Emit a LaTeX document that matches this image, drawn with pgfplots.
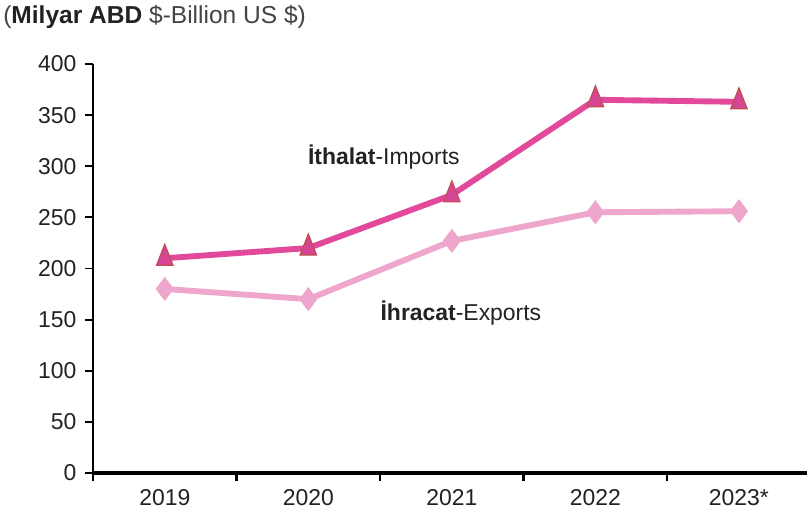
\documentclass[border=0pt]{standalone}
\usepackage{pgfplots}
\pgfplotsset{compat=1.18}
\usepackage{fontspec}
\setmainfont{Liberation Sans}
\definecolor{impcol}{RGB}{226,73,154}
\definecolor{impfill}{RGB}{214,68,150}
\definecolor{impedge}{RGB}{192,80,77}
\definecolor{expcol}{RGB}{238,166,204}
\definecolor{txt}{RGB}{34,34,34}
\begin{document}
\begin{tikzpicture}
\begin{axis}[
  at={(69.75pt,35.25pt)}, anchor=south west,
  scale only axis, width=535.5pt, height=306.75pt,
  xmin=-0.5, xmax=4.474, ymin=0, ymax=400,
  axis lines*=left,
  x axis line style={line width=2.4pt, black},
  y axis line style={line width=2pt, black},
  xtick={0,1,2,3,4},
  xticklabels={2019,2020,2021,2022,2023*},
  minor xtick={-0.5,0.5,1.5,2.5,3.5},
  major x tick style={draw=none},
  minor x tick style={line width=1.8pt, black},
  minor tick length=6pt,
  ytick={0,50,...,400},
  y tick style={line width=1.4pt, black},
  major tick length=6pt,
  tick align=outside,
  xtick pos=bottom, ytick pos=left,
  tick label style={font=\fontsize{17.2}{20}\selectfont, text=txt},
  /pgf/number format/assume math mode=true,
  xticklabel style={yshift=-3pt},
  yticklabel style={xshift=-3pt},
  clip=false,
]
\addplot[color=expcol, line width=4.4pt, mark=diamond*, mark size=8.8pt,
  mark options={fill=expcol, draw=expcol, line width=0.3pt}]
  coordinates {(0,180) (1,170) (2,227) (3,255) (4,256)};
\addplot[color=impcol, line width=4.4pt, mark=triangle*, mark size=10.5pt,
  mark options={fill=impfill, draw=impedge, line width=0.9pt, xscale=0.68}]
  coordinates {(0,210) (1,220) (2,272) (3,365) (4,363)};
\node[font=\fontsize{17.2}{20}\selectfont, text=txt] at (axis cs:1.526,309) {\textbf{İthalat}-Imports};
\node[font=\fontsize{17.2}{20}\selectfont, text=txt] at (axis cs:2.063,156.5) {\textbf{İhracat}-Exports};
\end{axis}
\node[anchor=west, font=\fontsize{18.4}{21}\selectfont, text={rgb,255:red,68;green,68;blue,68}, inner sep=0pt] at (2.25pt,377.25pt) {(\textcolor{txt}{\textbf{Milyar ABD}} \$-Billion US \$)};
\pgfresetboundingbox
\path[use as bounding box] (0,0) rectangle (606pt,390pt);
\end{tikzpicture}
\end{document}
